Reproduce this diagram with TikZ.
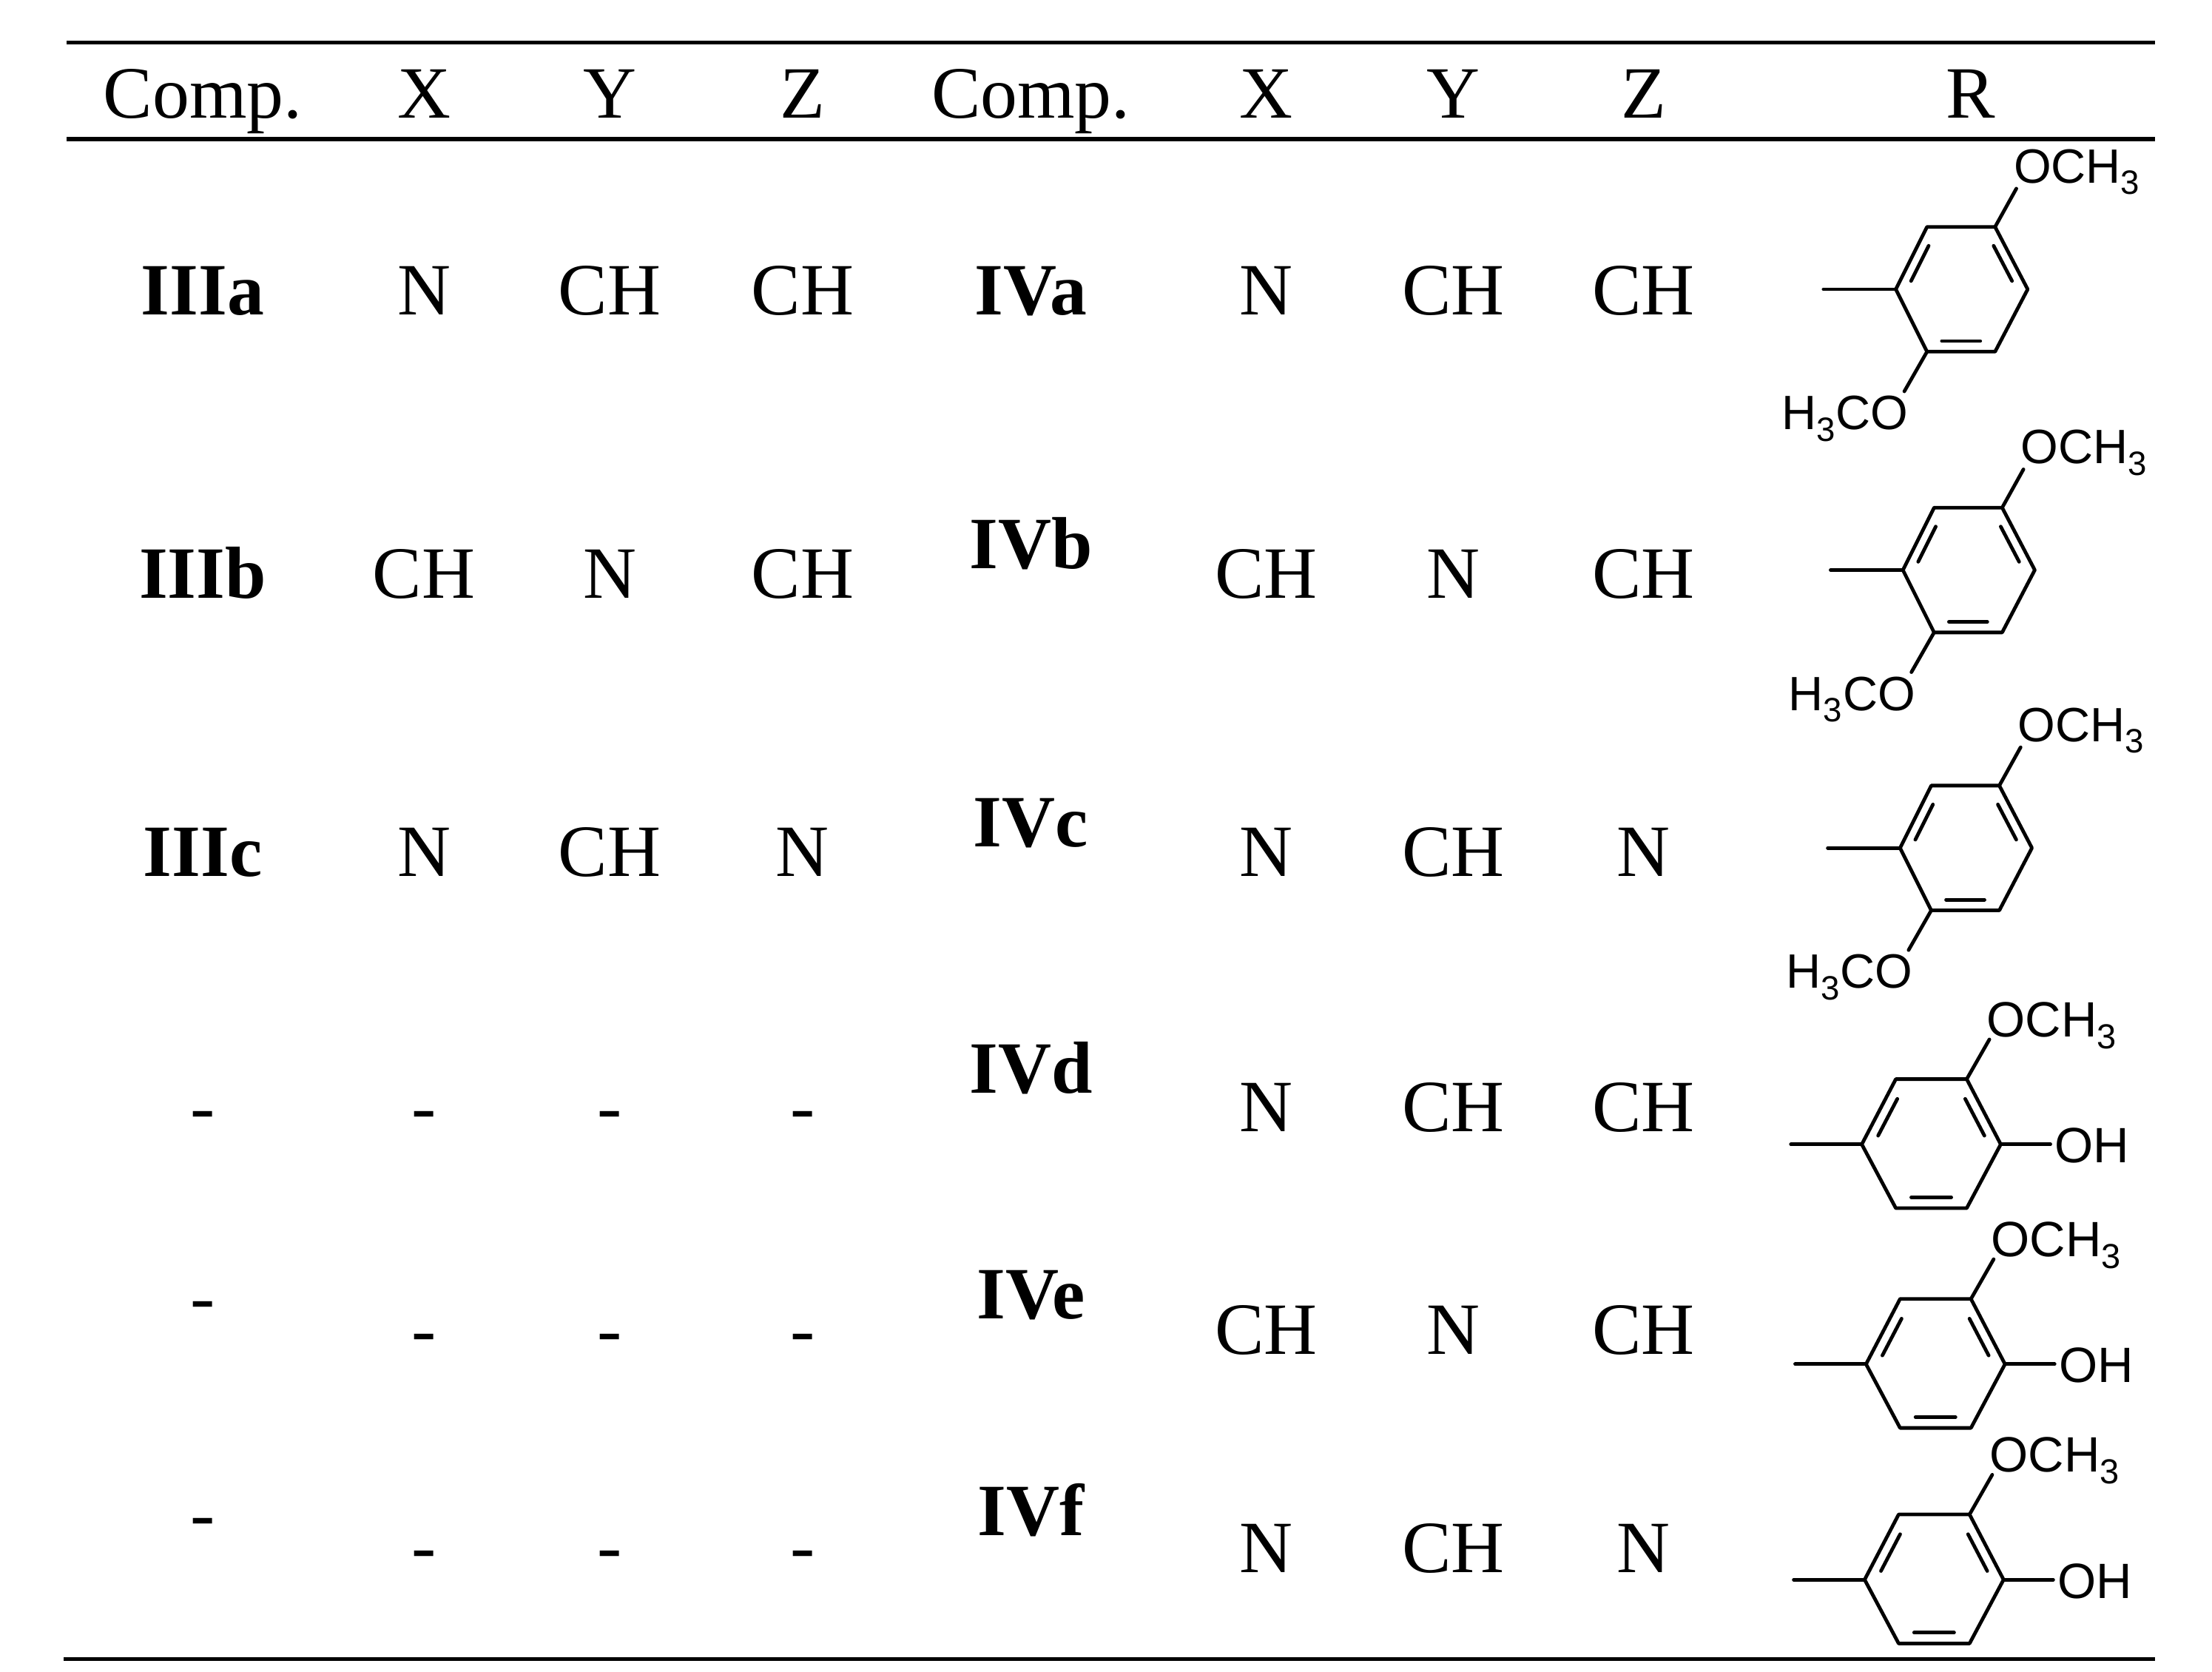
\documentclass[tikz,border=0pt]{standalone}
\usepackage{fontspec}
\setmainfont{Liberation Serif}
\newfontfamily\chemfont{Liberation Sans}
\usetikzlibrary{calc}
\tikzset{
  cell/.style={anchor=base,inner sep=0pt,font=\fontsize{52}{60}\selectfont},
  bcell/.style={cell,font=\fontsize{52}{60}\selectfont\bfseries},
  rulel/.style={line width=2.8pt},
  bond/.style={line width=2.5pt,line cap=round,line join=round},
  chem/.style={inner sep=0pt,font=\fontsize{34}{40}\selectfont\chemfont},
  chemb/.style={inner sep=0pt,font=\fontsize{35}{42}\selectfont\chemfont},
}
\newcommand{\dbl}[3]{\draw[bond] ($($(#1)!0.16!(#2)$)!0.17!(#3)$) -- ($($(#2)!0.16!(#1)$)!0.17!(#3)$);}
\newcommand{\ringA}[3]{%
\begin{scope}[shift={(#1,#2)}]
\coordinate (#3c) at (0,0);
\coordinate (#3tl) at (-24,-44); \coordinate (#3tr) at (24,-44);
\coordinate (#3r) at (47,0); \coordinate (#3br) at (24,44);
\coordinate (#3bl) at (-24,44); \coordinate (#3l) at (-46,0);
\coordinate (#3s) at (-97,0);
\coordinate (#3o1) at (39,-71); \coordinate (#3o2) at (-40,72);
\draw[bond] (#3tl)--(#3tr)--(#3r)--(#3br)--(#3bl)--(#3l)--cycle;
\draw[bond] (#3l)--(#3s); \draw[bond] (#3tr)--(#3o1); \draw[bond] (#3bl)--(#3o2);
\dbl{#3l}{#3tl}{#3c}\dbl{#3tr}{#3r}{#3c}\dbl{#3br}{#3bl}{#3c}
\node[chem,anchor=base west] (#3t1) at (37,-75) {OCH\textsubscript{3}};
\node[chem,anchor=base east] (#3t2) at (-37,99) {H\textsubscript{3}CO};
\end{scope}}
\newcommand{\ringB}[3]{%
\begin{scope}[shift={(#1,#2)}]
\coordinate (#3c) at (0,0);
\coordinate (#3tl) at (-25,-46); \coordinate (#3tr) at (25,-46);
\coordinate (#3r) at (49,0); \coordinate (#3br) at (25,45);
\coordinate (#3bl) at (-25,45); \coordinate (#3l) at (-49,0);
\coordinate (#3s) at (-99,0);
\coordinate (#3o1) at (41,-74); \coordinate (#3o2) at (84,0);
\draw[bond] (#3tl)--(#3tr)--(#3r)--(#3br)--(#3bl)--(#3l)--cycle;
\draw[bond] (#3l)--(#3s); \draw[bond] (#3tr)--(#3o1); \draw[bond] (#3r)--(#3o2);
\dbl{#3l}{#3tl}{#3c}\dbl{#3tr}{#3r}{#3c}\dbl{#3br}{#3bl}{#3c}
\node[chemb,anchor=base west] (#3t1) at (39,-76) {OCH\textsubscript{3}};
\node[chemb,anchor=base west] (#3t2) at (87,13) {OH};
\end{scope}}
\begin{document}
\begin{tikzpicture}[x=1pt,y=-1pt]
\useasboundingbox (0,0) rectangle (1560,1179);
\coordinate (t1) at (47,30); \coordinate (t2) at (1520,30);
\coordinate (h1) at (47,98); \coordinate (h2) at (1520,98);
\coordinate (b1) at (45,1170); \coordinate (b2) at (1520,1170);
\draw[rulel] (t1)--(t2); \draw[rulel] (h1)--(h2); \draw[rulel] (b1)--(b2);
% header
\foreach \x/\t/\n in {143/Comp./ha,299/X/hb,430/Y/hc,566/Z/hd,727/Comp./he,893/X/hf,1025/Y/hg,1159/Z/hh,1390/R/hi}
  \node[cell] (\n) at (\x,83) {\t};
% rows
\node[bcell] (c1) at (143,222) {IIIa};
\node[cell] (x1) at (299,222) {N};
\node[cell] (y1) at (430,222) {CH};
\node[cell] (z1) at (566,222) {CH};
\node[bcell] (d1) at (727,222) {IVa};
\node[cell] (u1) at (893,222) {N};
\node[cell] (v1) at (1025,222) {CH};
\node[cell] (w1) at (1159,222) {CH};

\node[bcell] (c2) at (143,422) {IIIb};
\node[cell] (x2) at (299,422) {CH};
\node[cell] (y2) at (430,422) {N};
\node[cell] (z2) at (566,422) {CH};
\node[bcell] (d2) at (727,401) {IVb};
\node[cell] (u2) at (893,422) {CH};
\node[cell] (v2) at (1025,422) {N};
\node[cell] (w2) at (1159,422) {CH};

\node[bcell] (c3) at (143,618) {IIIc};
\node[cell] (x3) at (299,618) {N};
\node[cell] (y3) at (430,618) {CH};
\node[cell] (z3) at (566,618) {N};
\node[bcell] (d3) at (727,597) {IVc};
\node[cell] (u3) at (893,618) {N};
\node[cell] (v3) at (1025,618) {CH};
\node[cell] (w3) at (1159,618) {N};

\node[cell] (c4) at (143,798) {-};
\node[cell] (x4) at (299,798) {-};
\node[cell] (y4) at (430,798) {-};
\node[cell] (z4) at (566,798) {-};
\node[bcell] (d4) at (727,771) {IVd};
\node[cell] (u4) at (893,798) {N};
\node[cell] (v4) at (1025,798) {CH};
\node[cell] (w4) at (1159,798) {CH};

\node[cell] (c5) at (143,932) {-};
\node[cell] (x5) at (299,955) {-};
\node[cell] (y5) at (430,955) {-};
\node[cell] (z5) at (566,955) {-};
\node[bcell] (d5) at (727,930) {IVe};
\node[cell] (u5) at (893,955) {CH};
\node[cell] (v5) at (1025,955) {N};
\node[cell] (w5) at (1159,955) {CH};

\node[cell] (c6) at (143,1085) {-};
\node[cell] (x6) at (299,1108) {-};
\node[cell] (y6) at (430,1108) {-};
\node[cell] (z6) at (566,1108) {-};
\node[bcell] (d6) at (727,1083) {IVf};
\node[cell] (u6) at (893,1109) {N};
\node[cell] (v6) at (1025,1109) {CH};
\node[cell] (w6) at (1159,1109) {N};

\ringA{1383}{204}{ra}
\ringA{1388}{402}{rb}
\ringA{1386}{598}{rc}
\ringB{1362}{807}{rd}
\ringB{1365}{962}{re}
\ringB{1364}{1114}{rf}
\end{tikzpicture}
\end{document}
